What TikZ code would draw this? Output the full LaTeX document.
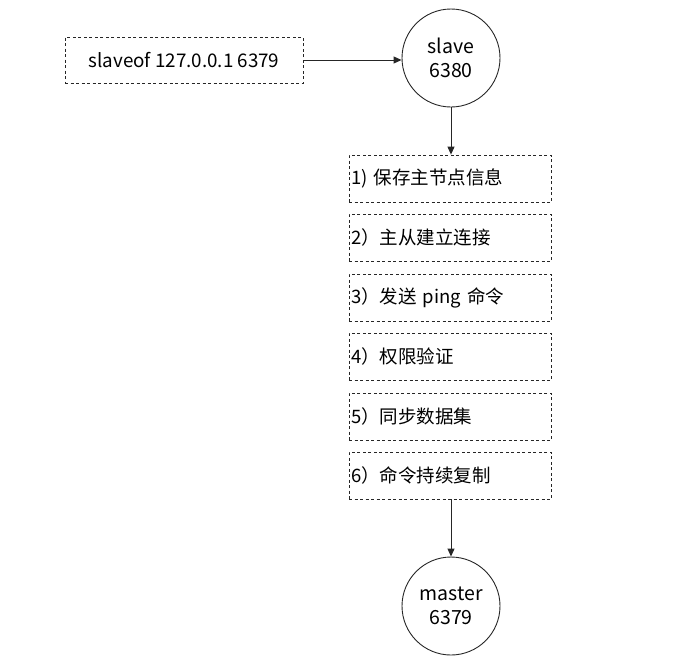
\documentclass[tikz,border=0pt]{standalone}
\usepackage{fontspec}
\setmainfont{Noto Sans CJK SC}
\usetikzlibrary{arrows.meta}
\begin{document}
\begin{tikzpicture}[x=1pt,y=-1pt,
  dbox/.style={draw=black!85, line width=0.8pt, dash pattern=on 3pt off 2.5pt, minimum width=202pt, minimum height=47pt, inner sep=0pt, font=\fontsize{18.5}{22}\selectfont},
  stepbox/.style={dbox, text width=198pt, align=left},
  circ/.style={draw=black!85, line width=0.9pt, circle, minimum size=98pt, inner sep=0pt, align=center, font=\fontsize{19.5}{24}\selectfont},
  conn/.style={draw=black!85, line width=0.9pt, -{Triangle[length=8pt,width=7pt]}}
]
\useasboundingbox (0,0) rectangle (684,667);
\node[dbox, minimum width=238pt, minimum height=46pt, font=\fontsize{18.8}{22}\selectfont] (cmd) at (184,60) {slaveof 127.0.0.1 6379};
\node[circ] (slave) at (451,58) {slave\\6380};
\node[stepbox] (s1) at (450,178.5) {1) 保存主节点信息};
\node[stepbox] (s2) at (450,237.5) {2）主从建立连接};
\node[stepbox] (s3) at (450,297.5) {3）发送 ping 命令};
\node[stepbox] (s4) at (450,356.5) {4）权限验证};
\node[stepbox] (s5) at (450,416.5) {5）同步数据集};
\node[stepbox] (s6) at (450,475.5) {6）命令持续复制};
\node[circ] (master) at (451,606) {master\\6379};
\draw[conn] (cmd.east) -- (slave.west |- cmd.east);
\draw[conn] (slave.south) -- (slave.south |- s1.north);
\draw[conn] (master.north |- s6.south) -- (master.north);
\end{tikzpicture}
\end{document}
